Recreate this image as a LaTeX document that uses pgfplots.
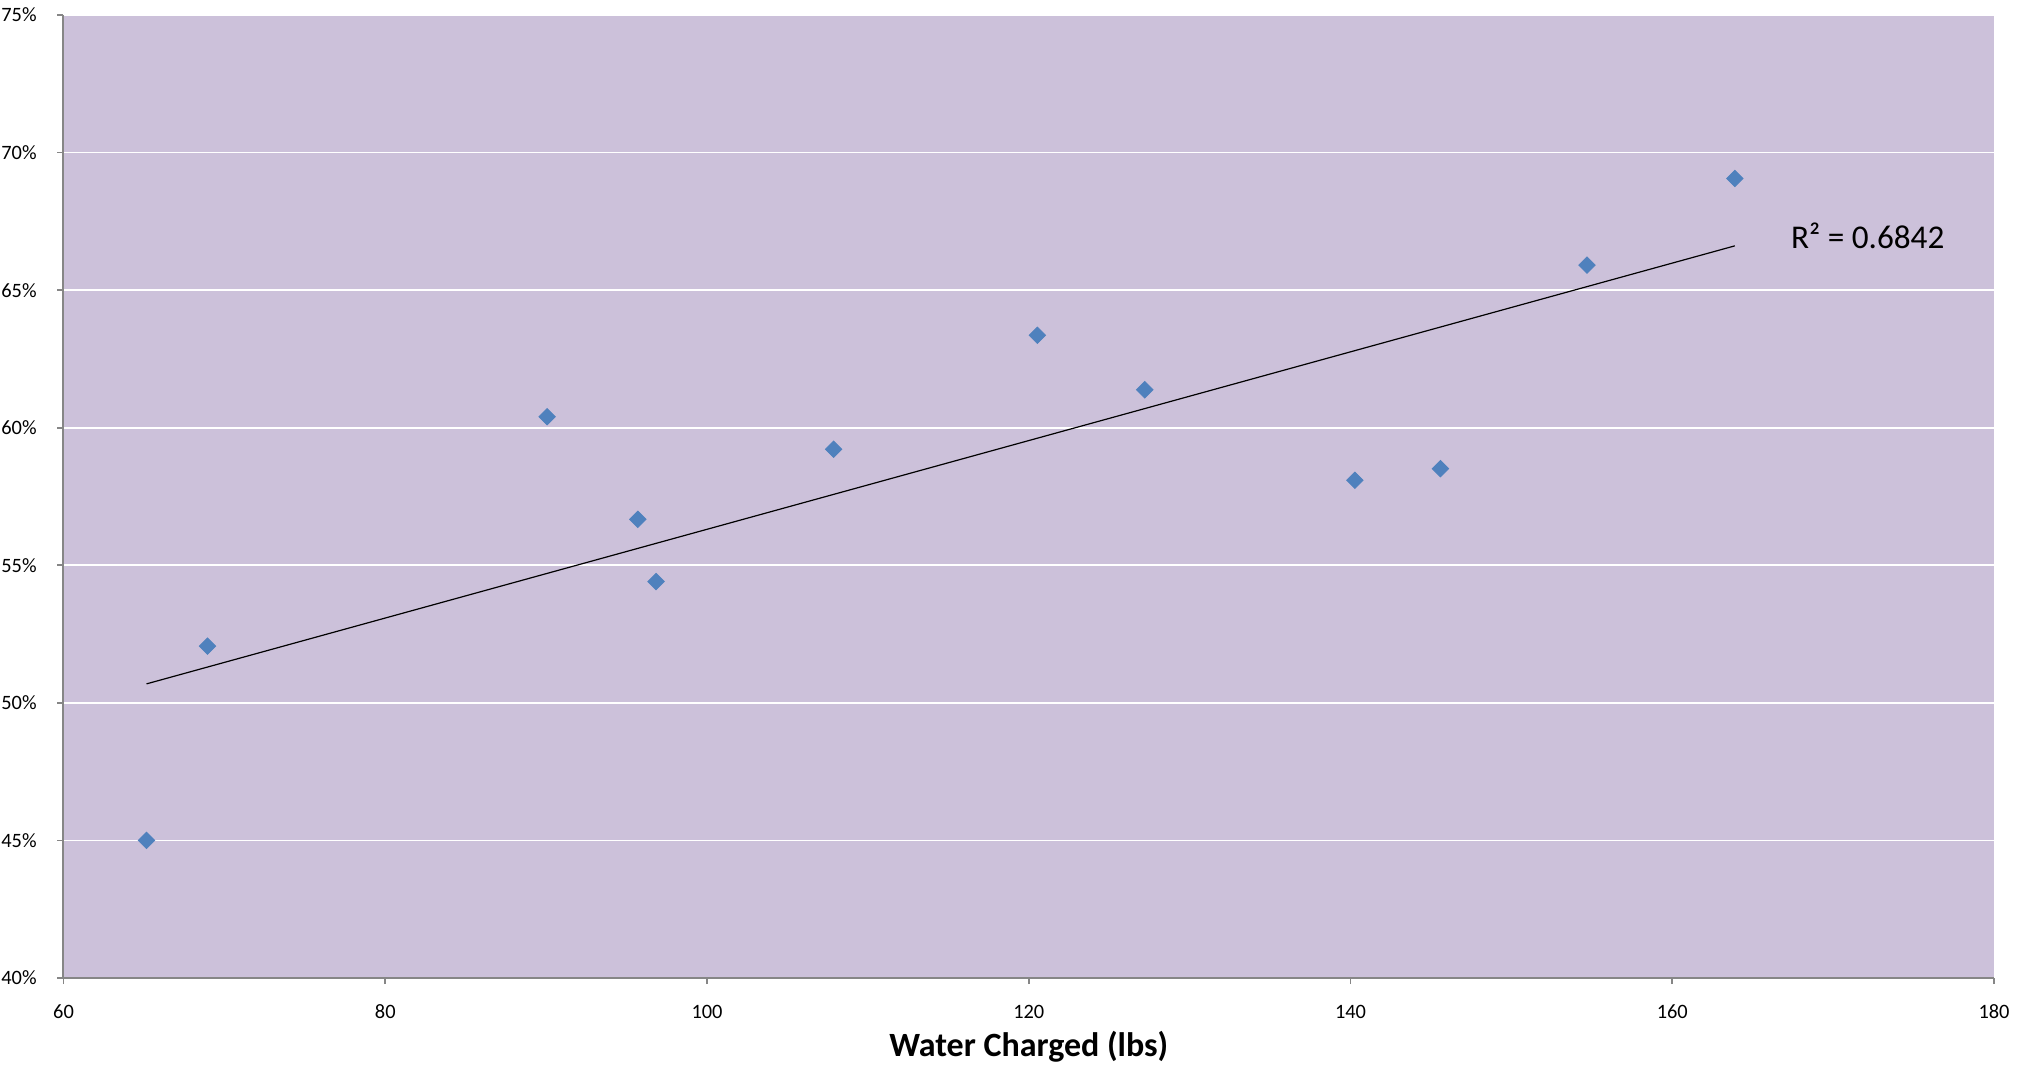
\documentclass[border=0pt]{standalone}
\usepackage{fontspec}
\setmainfont{Carlito}
\usepackage{pgfplots}
\pgfplotsset{compat=1.18}
\definecolor{plotbg}{RGB}{204,193,218}
\definecolor{mblue}{RGB}{79,129,189}
\definecolor{axgray}{RGB}{134,134,134}
\begin{document}
\begin{tikzpicture}
\path[use as bounding box] (-31.75pt,-44pt) rectangle (984.25pt,489pt);
\begin{axis}[
  scale only axis,
  width=965.25pt, height=481.5pt,
  xmin=60, xmax=180, ymin=40, ymax=75,
  xtick={60,80,...,180}, ytick={40,45,...,75},
  axis x line*=bottom, axis y line*=left,
  axis line style={axgray, line width=1pt},
  tick style={axgray, line width=0.8pt},
  tick align=outside, major tick length=3pt,
  axis background/.style={fill=plotbg},
  ymajorgrids, grid style={white, line width=0.9pt},
  /pgf/number format/assume math mode=true,
  xticklabel={\pgfmathprintnumber{\tick}},
  yticklabel={\pgfmathprintnumber{\tick}\%},
  ticklabel style={font=\fontsize{10.2}{12}\selectfont},
  xticklabel style={anchor=base, yshift=-17pt},
  yticklabel style={anchor=east, inner sep=0pt, xshift=-10.25pt},
  xlabel={Water Charged (lbs)},
  xlabel style={font=\fontsize{17}{20}\selectfont\bfseries, at={(axis description cs:0.5,0)}, anchor=base, yshift=-39pt},
  clip=false,
]
\addplot[only marks, mark=square*, mark size=2.9pt, color=mblue, every mark/.append style={rotate=45}] coordinates {
(65.16,45.00) (68.95,52.06) (90.06,60.40) (95.70,56.67) (96.83,54.41) (107.87,59.22)
(120.53,63.36) (127.21,61.38) (140.27,58.09) (145.59,58.51) (154.70,65.91) (163.89,69.06)
};
\addplot[no marks, black, line width=0.6pt] coordinates {(65.16,50.69) (163.89,66.61)};
\node[anchor=base, font=\fontsize{16.6}{19}\selectfont] at (axis cs:172.15,66.52) {R² = 0.6842};
\end{axis}
\end{tikzpicture}
\end{document}
